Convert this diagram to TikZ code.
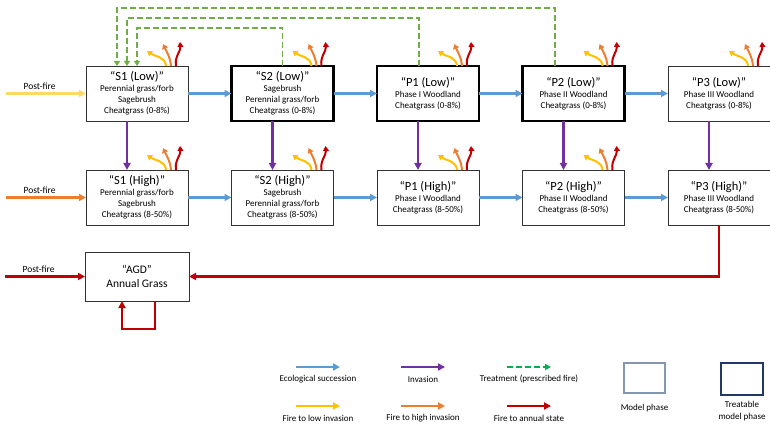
\documentclass[tikz,border=0pt]{standalone}
\usepackage{fontspec}
\setmainfont{Carlito}
\usetikzlibrary{positioning,arrows.meta}

\definecolor{succblue}{HTML}{5B9BD5}
\definecolor{invpurple}{HTML}{7030A0}
\definecolor{treatgreen}{HTML}{70AD47}
\definecolor{leggreen}{HTML}{00B050}
\definecolor{fireyellow}{HTML}{FFC000}
\definecolor{fireorange}{HTML}{ED7D31}
\definecolor{firered}{HTML}{C00000}
\definecolor{paleyellow}{HTML}{FFD966}
\definecolor{modelgray}{HTML}{8497B0}
\definecolor{navy}{HTML}{1F3864}

\newcommand{\phname}[1]{{\fontsize{12.5}{13}\selectfont #1}}

\begin{document}
\begin{tikzpicture}[
    x=1pt, y=1pt,
    node distance=43.5pt,
    box/.style={draw=black!80, line width=0.8pt, rectangle, minimum width=102pt,
        minimum height=55pt, align=center, inner sep=1pt, outer sep=0pt,
        font=\fontsize{9}{11}\selectfont},
    treatable/.style={box, draw=black, line width=2.4pt},
    succ/.style={-{Triangle[length=7pt,width=7pt]}, succblue, line width=2.2pt},
    inv/.style={-{Triangle[length=7pt,width=7pt]}, invpurple, line width=2.2pt},
    treat/.style={-{Triangle[length=5pt,width=6pt]}, treatgreen, line width=1.8pt,
        dash pattern=on 6pt off 3pt},
    treatleg/.style={-{Triangle[length=6pt,width=6pt]}, leggreen, line width=2.2pt,
        dash pattern=on 6pt off 3pt},
    firelow/.style={-{Triangle[length=5pt,width=6pt]}, fireyellow, line width=2pt},
    firehigh/.style={-{Triangle[length=5pt,width=6pt]}, fireorange, line width=2pt},
    fireagd/.style={-{Triangle[length=7pt,width=7pt]}, firered, line width=2.2pt},
    firelowleg/.style={firelow, -{Triangle[length=7pt,width=7pt]}, line width=2.2pt},
    firehighleg/.style={firehigh, -{Triangle[length=7pt,width=7pt]}, line width=2.2pt},
    postfire/.style={-{Triangle[length=7pt,width=7pt]}, line width=2.2pt},
    lbl/.style={font=\fontsize{9.5}{11}\selectfont, text=black, inner sep=1pt},
    lgtxt/.style={font=\fontsize{9}{11}\selectfont, align=center, inner sep=1pt}
]
\useasboundingbox (0,0) rectangle (770,423);

% Low invasion phases
\node[box] (s1l) at (137,329.5)
{\phname{“S1 (Low)”}\\Perennial grass/forb\\Sagebrush\\Cheatgrass (0-8\%)};
\node[treatable, right=of s1l] (s2l)
{\phname{“S2 (Low)”}\\Sagebrush\\Perennial grass/forb\\Cheatgrass (0-8\%)};
\node[treatable, right=of s2l] (p1l)
{\phname{“P1 (Low)”}\\Phase I Woodland\\Cheatgrass (0-8\%)};
\node[treatable, right=of p1l] (p2l)
{\phname{“P2 (Low)”}\\Phase II Woodland\\Cheatgrass (0-8\%)};
\node[box, right=of p2l] (p3l)
{\phname{“P3 (Low)”}\\Phase III Woodland\\Cheatgrass (0-8\%)};

% High invasion phases
\node[box, below=49pt of s1l] (s1h)
{\phname{“S1 (High)”}\\Perennial grass/forb\\Sagebrush\\Cheatgrass (8-50\%)};
\node[box, right=of s1h] (s2h)
{\phname{“S2 (High)”}\\Sagebrush\\Perennial grass/forb\\Cheatgrass (8-50\%)};
\node[box, right=of s2h] (p1h)
{\phname{“P1 (High)”}\\Phase I Woodland\\Cheatgrass (8-50\%)};
\node[box, right=of p1h] (p2h)
{\phname{“P2 (High)”}\\Phase II Woodland\\Cheatgrass (8-50\%)};
\node[box, right=of p2h] (p3h)
{\phname{“P3 (High)”}\\Phase III Woodland\\Cheatgrass (8-50\%)};

% Annual grass state
\node[box, below=27pt of s1h, minimum width=104pt, minimum height=49pt,
    font=\fontsize{11.5}{13.5}\selectfont] (agd)
{“AGD”\\Annual Grass};

% Post-fire entries
\coordinate[left=80pt of s1l.west] (pf1);
\coordinate[left=80pt of s1h.west] (pf2);
\coordinate[left=80pt of agd.west] (pf3);
\draw[postfire, paleyellow] (pf1) -- node[lbl, above, pos=0.42, yshift=2pt] (pf1t) {Post-fire} (s1l.west);
\draw[postfire, fireorange] (pf2) -- node[lbl, above, pos=0.42, yshift=2pt] (pf2t) {Post-fire} (s1h.west);
\draw[postfire, firered] (pf3) -- node[lbl, above, pos=0.42, yshift=2pt] (pf3t) {Post-fire} (agd.west);

% Succession
\draw[succ] (s1l) -- (s2l);
\draw[succ] (s2l) -- (p1l);
\draw[succ] (p1l) -- (p2l);
\draw[succ] (p2l) -- (p3l);
\draw[succ] (s1h) -- (s2h);
\draw[succ] (s2h) -- (p1h);
\draw[succ] (p1h) -- (p2h);
\draw[succ] (p2h) -- (p3h);

% Invasion
\foreach \ph in {s1,s2,p1,p2,p3}
  \draw[inv] ([xshift=-10pt]\ph l.south) -- ([xshift=-10pt]\ph h.north);

% Treatment (prescribed fire)
\draw[treat] (s2l.north) -- ++(0,38) -| (s1l.north);
\draw[treat] ([xshift=-9pt]p1l.north) -- ++(0,48) -| ([xshift=-10pt]s1l.north);
\draw[treat] ([xshift=-18.5pt]p2l.north) -- ++(0,58) -| ([xshift=-20pt]s1l.north);

% Fire transitions
\foreach \b in {s1l,s2l,p1l,p2l,p3l,s1h,s2h,p1h,p2h}{
  \draw[firelow] ([xshift=-22pt]\b.north east) to[out=95,in=-35] ([shift={(-41pt,15pt)}]\b.north east);
  \draw[firehigh] ([xshift=-17pt]\b.north east) to[out=95,in=-65] ([shift={(-25pt,22pt)}]\b.north east);
  \draw[firered, -{Triangle[length=5pt,width=6pt]}, line width=2pt]
    ([xshift=-12pt]\b.north east) to[out=100,in=-85] ([shift={(-8pt,24pt)}]\b.north east);
}
\draw[fireagd] (p3h.south) |- (agd.east);
\draw[fireagd] ([xshift=18pt]agd.south) -- ++(0,-28) -| ([xshift=-15pt]agd.south);

% Legend
\foreach \x/\s/\t [count=\i] in {296/succ/Ecological succession, 401/inv/Invasion,
    507/treatleg/Treatment (prescribed fire)}{
  \coordinate (la\i) at (\x,56);
  \coordinate (lb\i) at (\x+44,56);
  \draw[\s] (la\i) -- (lb\i);
  \node[lgtxt] (lt\i) at (\x+22,44) {\t};
}
\foreach \x/\s/\t [count=\i] in {296/firelowleg/Fire to low invasion,
    401/firehighleg/Fire to high invasion, 507/fireagd/Fire to annual state}{
  \coordinate (lc\i) at (\x,17);
  \coordinate (ld\i) at (\x+44,17);
  \draw[\s] (lc\i) -- (ld\i);
  \node[lgtxt] (lu\i) at (\x+22,5) {\t};
}
\node[draw=modelgray, line width=1.2pt, minimum width=41pt, minimum height=30pt] (mod) at (644.5,45) {};
\node[lgtxt, below=9pt of mod] (modt) {Model phase};
\node[draw=navy, line width=2.5pt, minimum width=42pt, minimum height=32pt] (tmod) at (742,44) {};
\node[lgtxt, below=4pt of tmod, font=\fontsize{9}{12}\selectfont] (tmodt) {Treatable\\model phase};

\end{tikzpicture}
\end{document}
